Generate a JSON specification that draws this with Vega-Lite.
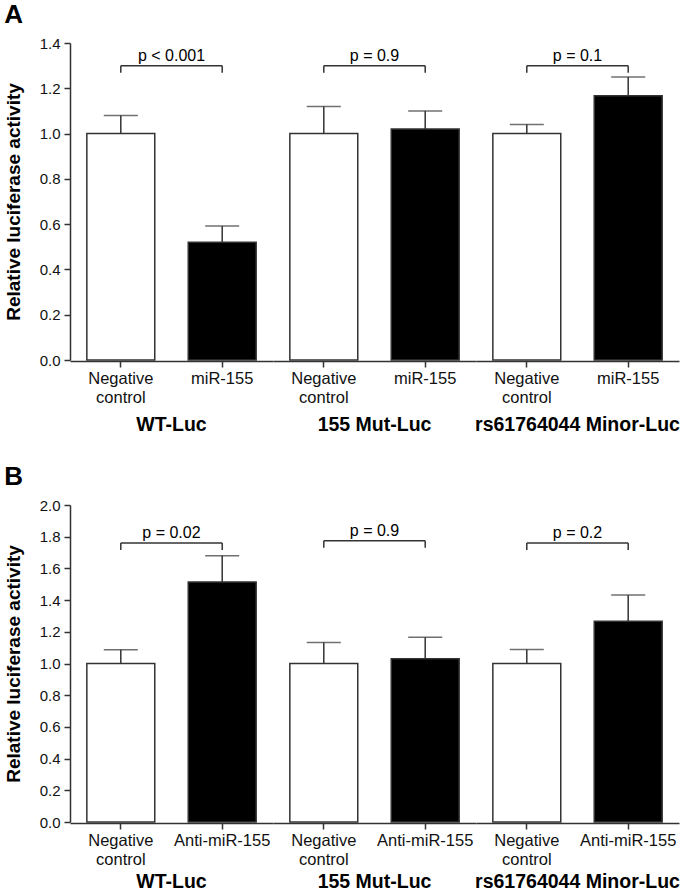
{
  "$schema": "https://vega.github.io/schema/vega-lite/v6.json",
  "padding": {"left": 4, "top": 2, "right": 0, "bottom": 0},
  "background": "white",
  "config": {
    "font": "Liberation Sans",
    "view": {"stroke": null},
    "axis": {"domainColor": "#333", "domainWidth": 1.5, "tickColor": "#333", "tickWidth": 1.5, "tickSize": 6, "labelColor": "#111", "grid": false, "labelFont": "Liberation Sans", "titleFont": "Liberation Sans"},
    "concat": {"spacing": 30},
    "facet": {"spacing": 0},
    "title": {"font": "Liberation Sans", "color": "black"}
  },
  "datasets": {
    "a": [
      {"group": "WT-Luc", "treatment": "Negative control", "value": 1.0, "upper": 1.08, "bracket": 1.30, "p": "p < 0.001"},
      {"group": "WT-Luc", "treatment": "miR-155", "value": 0.52, "upper": 0.592, "bracket": 1.30, "p": "p < 0.001"},
      {"group": "155 Mut-Luc", "treatment": "Negative control", "value": 1.0, "upper": 1.12, "bracket": 1.30, "p": "p = 0.9"},
      {"group": "155 Mut-Luc", "treatment": "miR-155", "value": 1.02, "upper": 1.10, "bracket": 1.30, "p": "p = 0.9"},
      {"group": "rs61764044 Minor-Luc", "treatment": "Negative control", "value": 1.0, "upper": 1.04, "bracket": 1.30, "p": "p = 0.1"},
      {"group": "rs61764044 Minor-Luc", "treatment": "miR-155", "value": 1.167, "upper": 1.25, "bracket": 1.30, "p": "p = 0.1"}
    ],
    "b": [
      {"group": "WT-Luc", "treatment": "Negative control", "value": 1.0, "upper": 1.087, "bracket": 1.76, "p": "p = 0.02"},
      {"group": "WT-Luc", "treatment": "Anti-miR-155", "value": 1.514, "upper": 1.68, "bracket": 1.76, "p": "p = 0.02"},
      {"group": "155 Mut-Luc", "treatment": "Negative control", "value": 1.0, "upper": 1.133, "bracket": 1.775, "p": "p = 0.9"},
      {"group": "155 Mut-Luc", "treatment": "Anti-miR-155", "value": 1.03, "upper": 1.165, "bracket": 1.775, "p": "p = 0.9"},
      {"group": "rs61764044 Minor-Luc", "treatment": "Negative control", "value": 1.0, "upper": 1.089, "bracket": 1.76, "p": "p = 0.2"},
      {"group": "rs61764044 Minor-Luc", "treatment": "Anti-miR-155", "value": 1.266, "upper": 1.432, "bracket": 1.76, "p": "p = 0.2"}
    ]
  },
  "resolve": {"scale": {"color": "shared"}},
  "vconcat": [
    {
      "title": {"text": "A", "anchor": "start", "frame": "bounds", "fontSize": 26, "fontWeight": "bold", "offset": 8},
      "data": {"name": "a"},
      "facet": {"column": {"field": "group", "type": "nominal", "sort": ["WT-Luc", "155 Mut-Luc", "rs61764044 Minor-Luc"], "title": null,
        "header": {"labelOrient": "bottom", "labelFontSize": 19.5, "labelFontWeight": "bold", "labelColor": "black", "labelPadding": 10, "labelFont": "Liberation Sans"}}},
      "spacing": 0,
      "spec": {
        "width": 203, "height": 317,
        "encoding": {
          "x": {"field": "treatment", "type": "nominal", "sort": ["Negative control", "miR-155"],
            "scale": {"paddingInner": 0.33, "paddingOuter": 0.166},
            "axis": {"title": null, "labelAngle": 0, "labelFontSize": 16.5, "labelLineHeight": 19, "labelPadding": 3,
              "labelExpr": "datum.value == 'Negative control' ? ['Negative', 'control'] : datum.value"}},
          "y": {"field": "value", "type": "quantitative", "scale": {"domain": [0, 1.4], "nice": false},
            "axis": {"title": "Relative luciferase activity", "titleFontSize": 19, "titleFontWeight": "bold", "titleColor": "black",
              "values": [0, 0.2, 0.4, 0.6, 0.8, 1.0, 1.2, 1.4], "format": ".1f", "labelFontSize": 15, "labelPadding": 4, "titlePadding": 16}}
        },
        "layer": [
          {"mark": {"type": "bar", "stroke": "#333", "strokeWidth": 1.5},
           "encoding": {"color": {"field": "treatment", "type": "nominal", "scale": {"domain": ["Negative control", "miR-155", "Anti-miR-155"], "range": ["white", "black", "black"]}, "legend": null}}},
          {"mark": {"type": "rule", "color": "#333", "strokeWidth": 1.5},
           "encoding": {"y2": {"field": "upper"}}},
          {"mark": {"type": "tick", "orient": "horizontal", "size": 34, "thickness": 1.5, "color": "#333"},
           "encoding": {"y": {"field": "upper", "type": "quantitative"}}},
          {"transform": [{"filter": "datum.treatment == 'Negative control'"}],
           "mark": {"type": "rule", "color": "#333", "strokeWidth": 1.5},
           "encoding": {"x": {"datum": "Negative control", "type": "nominal"}, "x2": {"datum": "miR-155"}, "y": {"field": "bracket", "type": "quantitative"}}},
          {"mark": {"type": "rule", "color": "#333", "strokeWidth": 1.5, "y2Offset": 7},
           "encoding": {"y": {"field": "bracket", "type": "quantitative"}, "y2": {"field": "bracket"}}},
          {"transform": [{"filter": "datum.treatment == 'Negative control'"}],
           "mark": {"type": "text", "fontSize": 16, "dy": -5, "baseline": "alphabetic", "align": "center", "color": "black"},
           "encoding": {"x": {"datum": "Negative control", "type": "nominal", "bandPosition": 1.246}, "y": {"field": "bracket", "type": "quantitative"}, "text": {"field": "p"}}}
        ]
      }
    },
    {
      "title": {"text": "B", "anchor": "start", "frame": "bounds", "fontSize": 26, "fontWeight": "bold", "offset": 8},
      "data": {"name": "b"},
      "facet": {"column": {"field": "group", "type": "nominal", "sort": ["WT-Luc", "155 Mut-Luc", "rs61764044 Minor-Luc"], "title": null,
        "header": {"labelOrient": "bottom", "labelFontSize": 19.5, "labelFontWeight": "bold", "labelColor": "black", "labelPadding": 5, "labelFont": "Liberation Sans"}}},
      "spacing": 0,
      "spec": {
        "width": 203, "height": 317,
        "encoding": {
          "x": {"field": "treatment", "type": "nominal", "sort": ["Negative control", "Anti-miR-155"],
            "scale": {"paddingInner": 0.33, "paddingOuter": 0.166},
            "axis": {"title": null, "labelAngle": 0, "labelFontSize": 16.5, "labelLineHeight": 19, "labelPadding": 3,
              "labelExpr": "datum.value == 'Negative control' ? ['Negative', 'control'] : datum.value"}},
          "y": {"field": "value", "type": "quantitative", "scale": {"domain": [0, 2], "nice": false},
            "axis": {"title": "Relative luciferase activity", "titleFontSize": 19, "titleFontWeight": "bold", "titleColor": "black",
              "values": [0, 0.2, 0.4, 0.6, 0.8, 1.0, 1.2, 1.4, 1.6, 1.8, 2.0], "format": ".1f", "labelFontSize": 15, "labelPadding": 4, "titlePadding": 16}}
        },
        "layer": [
          {"mark": {"type": "bar", "stroke": "#333", "strokeWidth": 1.5},
           "encoding": {"color": {"field": "treatment", "type": "nominal", "scale": {"domain": ["Negative control", "miR-155", "Anti-miR-155"], "range": ["white", "black", "black"]}, "legend": null}}},
          {"mark": {"type": "rule", "color": "#333", "strokeWidth": 1.5},
           "encoding": {"y2": {"field": "upper"}}},
          {"mark": {"type": "tick", "orient": "horizontal", "size": 34, "thickness": 1.5, "color": "#333"},
           "encoding": {"y": {"field": "upper", "type": "quantitative"}}},
          {"transform": [{"filter": "datum.treatment == 'Negative control'"}],
           "mark": {"type": "rule", "color": "#333", "strokeWidth": 1.5},
           "encoding": {"x": {"datum": "Negative control", "type": "nominal"}, "x2": {"datum": "Anti-miR-155"}, "y": {"field": "bracket", "type": "quantitative"}}},
          {"mark": {"type": "rule", "color": "#333", "strokeWidth": 1.5, "y2Offset": 7},
           "encoding": {"y": {"field": "bracket", "type": "quantitative"}, "y2": {"field": "bracket"}}},
          {"transform": [{"filter": "datum.treatment == 'Negative control'"}],
           "mark": {"type": "text", "fontSize": 16, "dy": -5, "baseline": "alphabetic", "align": "center", "color": "black"},
           "encoding": {"x": {"datum": "Negative control", "type": "nominal", "bandPosition": 1.246}, "y": {"field": "bracket", "type": "quantitative"}, "text": {"field": "p"}}}
        ]
      }
    }
  ]
}
